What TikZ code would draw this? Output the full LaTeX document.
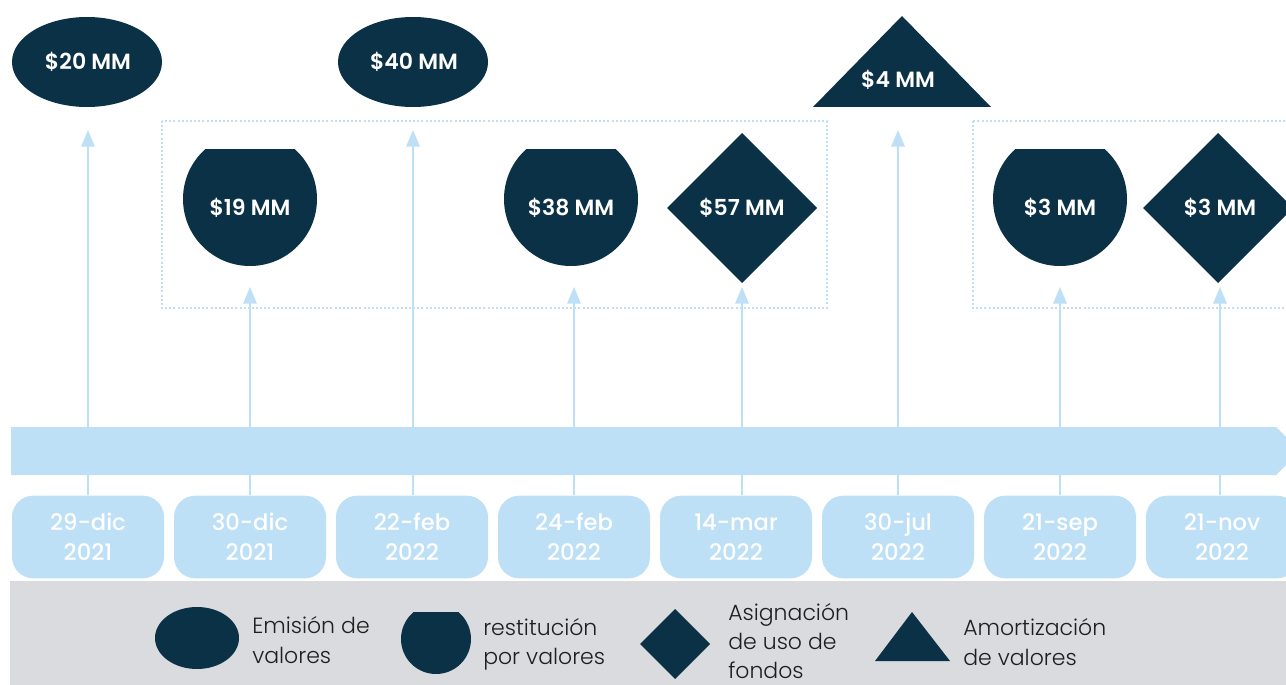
\documentclass[tikz,border=0pt]{standalone}
\usepackage{fontspec}
\setmainfont{Poppins}
\IfFontExistsTF{Poppins SemiBold}{\newfontfamily\semib{Poppins SemiBold}}{\newcommand\semib{\bfseries}}
\IfFontExistsTF{Poppins Medium}{\newfontfamily\medf{Poppins Medium}}{\newcommand\medf{\bfseries}}
\IfFontExistsTF{Poppins Light}{\newfontfamily\lightf{Poppins Light}}{\newcommand\lightf{}}
\usetikzlibrary{arrows.meta}
\definecolor{navy}{HTML}{0B3146}
\definecolor{lblue}{HTML}{BDE0F7}
\definecolor{band}{HTML}{DADBDF}
\definecolor{ink}{HTML}{1E1E1E}
\tikzset{
  val/.style={text=white,font=\semib\fontsize{16.5}{18}\selectfont,inner sep=0pt},
  datebox/.style={fill=lblue,rounded corners=16pt,minimum width=114pt,minimum height=62pt,
    text=white,align=center,font=\medf\fontsize{17}{22.5}\selectfont,inner sep=0pt},
  conn/.style={draw=lblue,line width=1.5pt,-{Triangle[length=12.5pt,width=10pt]}},
  dotbox/.style={draw=lblue,line width=1.6pt,dash pattern=on 1.5pt off 1.6pt},
  legtext/.style={text=ink,anchor=west,align=left,font=\lightf\fontsize{16.5}{22}\selectfont,inner sep=0pt}
}
\begin{document}
\begin{tikzpicture}[x=0.75pt,y=-0.75pt]
\clip (0,0) rectangle (1286,685);
\fill[white] (0,0) rectangle (1286,685);
% dotted boxes
\draw[dotbox] (162,121) rectangle (827,308);
\draw[dotbox] (973,121) rectangle (1310,308);
% timeline bar
\fill[lblue] (11,427) -- (1276,427) -- (1300,451) -- (1276,475) -- (11,475) -- cycle;
% shapes
\fill[navy] (87,62) ellipse[x radius=75,y radius=45];
\fill[navy] (413,62) ellipse[x radius=75,y radius=45];
\begin{scope}\clip (150,149) rectangle (350,300); \fill[navy] (250,199) circle[radius=67]; \end{scope}
\begin{scope}\clip (470,149) rectangle (670,300); \fill[navy] (571,199) circle[radius=67]; \end{scope}
\begin{scope}\clip (960,149) rectangle (1160,300); \fill[navy] (1060,199) circle[radius=67]; \end{scope}
\fill[navy] (742,133) -- (817,208) -- (742,283) -- (667,208) -- cycle;
\fill[navy] (1218,133) -- (1293,208) -- (1218,283) -- (1143,208) -- cycle;
\fill[navy] (813,107) -- (902,16) -- (991,107) -- cycle;
% value labels
\node[val] (v1) at (88,62) {\$20 MM};
\node[val] (v2) at (414,62) {\$40 MM};
\node[val] (v3) at (250,208) {\$19 MM};
\node[val] (v4) at (571,208) {\$38 MM};
\node[val] (v5) at (742,208) {\$57 MM};
\node[val] (v6) at (898,80) {\$4 MM};
\node[val] (v7) at (1060,208) {\$3 MM};
\node[val] (v8) at (1220,208) {\$3 MM};
% date boxes
\node[datebox] (d1) at (88,537) {29-dic\\2021};
\node[datebox] (d2) at (250,537) {30-dic\\2021};
\node[datebox] (d3) at (412,537) {22-feb\\2022};
\node[datebox] (d4) at (574,537) {24-feb\\2022};
\node[datebox] (d5) at (736,537) {14-mar\\2022};
\node[datebox] (d6) at (898,537) {30-jul\\2022};
\node[datebox] (d7) at (1060,537) {21-sep\\2022};
\node[datebox] (d8) at (1222,537) {21-nov\\2022};
% arrow tips
\coordinate (t1) at (88,130);
\coordinate (t2) at (250,287);
\coordinate (t3) at (413,130);
\coordinate (t4) at (574,287);
\coordinate (t5) at (742,287);
\coordinate (t6) at (898,130);
\coordinate (t7) at (1060,287);
\coordinate (t8) at (1220,287);
\foreach \i in {1,...,8} {\draw[conn] (t\i |- d\i.north) -- (t\i);}
% legend
\fill[band] (10,581) rectangle (1286,685);
\fill[navy] (197,638) ellipse[x radius=42,y radius=31];
\begin{scope}\clip (390,612) rectangle (480,680); \fill[navy] (436,639) circle[radius=35]; \end{scope}
\fill[navy] (675,609) -- (710,644) -- (675,679) -- (640,644) -- cycle;
\fill[navy] (875,661) -- (912,612) -- (950,661) -- cycle;
\node[legtext] (l1) at (252,640) {Emisión de\\valores};
\node[legtext] (l2) at (483,644) {restitución\\por valores};
\node[legtext] (l3) at (728,641) {Asignación\\de uso de\\fondos};
\node[legtext] (l4) at (963,642) {Amortización\\de valores};
\end{tikzpicture}
\end{document}
